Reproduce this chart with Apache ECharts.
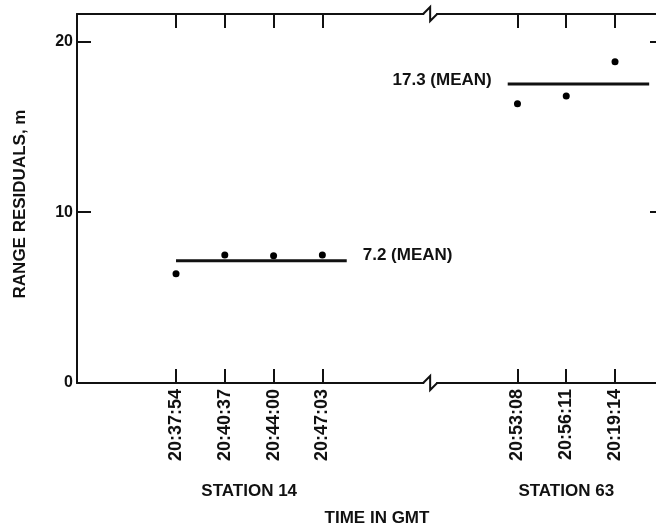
<!DOCTYPE html>
<html><head><meta charset="utf-8">
<script src="https://cdn.jsdelivr.net/npm/echarts@6/dist/echarts.min.js"></script>
<style>html,body{margin:0;padding:0;background:#fff}#c{width:656px;height:532px}</style>
</head><body><div id="c"></div>
<script>
// ---- data ----
const times14 = ['20:37:54', '20:40:37', '20:44:00', '20:47:03'];
const slots14 = [2, 3, 4, 5];
const resid14 = [6.4, 7.5, 7.45, 7.5];
const mean14 = 7.15;
const meanLabel14 = '7.2 (MEAN)';
const meanSpan14 = [2, 5.5];

const times63 = ['20:53:08', '20:56:11', '20:19:14'];
const slots63 = [9, 10, 11];
const resid63 = [16.35, 16.8, 18.8];
const mean63 = 17.5;
const meanLabel63 = '17.3 (MEAN)';
const meanSpan63 = [8.8, 11.7];

const stationNames = ['STATION 14', 'STATION 63'];
const yTickValues = [0, 10, 20];
const xRange = [-0.03, 11.84];
const yRange = [0, 21.6];
const breakAt = 7.21;

// ---- build ----
const FONT = 'Liberation Sans';
const INK = '#111';
const slotLabel = {};
slots14.forEach((s, i) => slotLabel[s] = times14[i]);
slots63.forEach((s, i) => slotLabel[s] = times63[i]);
const allSlots = slots14.concat(slots63);

const chart = echarts.init(document.getElementById('c'), null, {renderer: 'canvas'});
const axisLine = {show: true, onZero: false, lineStyle: {color: INK, width: 2}};
const tickStyle = {color: INK, width: 2};

const option = {
  animation: false,
  backgroundColor: '#fff',
  grid: {left: 77, top: 14, right: 0, bottom: 149},
  xAxis: [
    {type: 'value', position: 'bottom', min: xRange[0], max: xRange[1],
     axisLine: axisLine, splitLine: {show: false},
     axisTick: {show: true, inside: true, length: 14, lineStyle: tickStyle, customValues: allSlots},
     axisLabel: {show: true, customValues: allSlots, rotate: 90, margin: 6,
       formatter: v => slotLabel[v] || '', color: INK, fontFamily: FONT, fontSize: 18, fontWeight: 'bold'}},
    {type: 'value', position: 'top', min: xRange[0], max: xRange[1],
     axisLine: axisLine, splitLine: {show: false},
     axisTick: {show: true, inside: true, length: 14, lineStyle: tickStyle, customValues: allSlots},
     axisLabel: {show: false}}
  ],
  yAxis: [
    {type: 'value', position: 'left', min: yRange[0], max: yRange[1],
     axisLine: axisLine, splitLine: {show: false},
     axisTick: {show: true, inside: true, length: 14, lineStyle: tickStyle, customValues: [10, 20]},
     axisLabel: {show: true, customValues: yTickValues, margin: 4, color: INK,
       fontFamily: FONT, fontSize: 16, fontWeight: 'bold'}},
    {type: 'value', position: 'right', min: yRange[0], max: yRange[1],
     axisLine: {show: false, onZero: false}, splitLine: {show: false},
     axisTick: {show: true, inside: true, length: 6, lineStyle: tickStyle, customValues: [10, 20]},
     axisLabel: {show: false}}
  ],
  series: [
    {type: 'scatter', name: 'Station 14', symbol: 'circle', symbolSize: 7,
     itemStyle: {color: '#000', opacity: 1}, data: slots14.map((s, i) => [s, resid14[i]])},
    {type: 'scatter', name: 'Station 63', symbol: 'circle', symbolSize: 7,
     itemStyle: {color: '#000', opacity: 1}, data: slots63.map((s, i) => [s, resid63[i]])},
    {type: 'line', name: 'Mean 14', symbol: 'circle', symbolSize: 0, showSymbol: true,
     lineStyle: {color: INK, width: 3}, itemStyle: {color: INK},
     data: [
       {value: [meanSpan14[0], mean14]},
       {value: [meanSpan14[1], mean14], label: {show: true, position: 'right', distance: 16,
         offset: [0, -6], formatter: meanLabel14, color: INK, fontFamily: FONT, fontSize: 17, fontWeight: 'bold'}}
     ]},
    {type: 'line', name: 'Mean 63', symbol: 'circle', symbolSize: 0, showSymbol: true,
     lineStyle: {color: INK, width: 3}, itemStyle: {color: INK},
     data: [
       {value: [meanSpan63[0], mean63], label: {show: true, position: 'left', distance: 16,
         offset: [0, -4], formatter: meanLabel63, color: INK, fontFamily: FONT, fontSize: 17, fontWeight: 'bold'}},
       {value: [meanSpan63[1], mean63]}
     ]}
  ]
};
chart.setOption(option);

// decorations: axis breaks and text labels, positioned through the axes
const bx = chart.convertToPixel({xAxisIndex: 0}, breakAt);
const yTop = chart.convertToPixel({yAxisIndex: 0}, yRange[1]);
const yBot = chart.convertToPixel({yAxisIndex: 0}, yRange[0]);
const mid = a => (a[0] + a[a.length - 1]) / 2;
const s14x = chart.convertToPixel({xAxisIndex: 0}, mid(slots14));
const s63x = chart.convertToPixel({xAxisIndex: 0}, mid(slots63));
const textStyle = (t) => ({text: t, fill: INK, font: 'bold 17px "Liberation Sans"', align: 'center', verticalAlign: 'middle'});
function zig(y) {
  return [
    {type: 'rect', z: 100, shape: {x: bx - 6, y: y - 2, width: 12, height: 4}, style: {fill: '#fff'}},
    {type: 'polyline', z: 101, shape: {points: [[bx - 7, y], [bx, y - 7], [bx, y + 7], [bx + 7, y]]},
     style: {stroke: INK, lineWidth: 2, fill: null}}
  ];
}
chart.setOption({
  graphic: [].concat(zig(yTop), zig(yBot), [
    {type: 'text', z: 100, x: s14x, y: yBot + 108, style: textStyle(stationNames[0])},
    {type: 'text', z: 100, x: s63x, y: yBot + 108, style: textStyle(stationNames[1])},
    {type: 'text', z: 100, x: 377, y: 518, style: textStyle('TIME IN GMT')},
    {type: 'text', z: 100, x: 20, y: 204, rotation: Math.PI / 2, style: textStyle('RANGE RESIDUALS, m')}
  ])
});
</script>
</body></html>
